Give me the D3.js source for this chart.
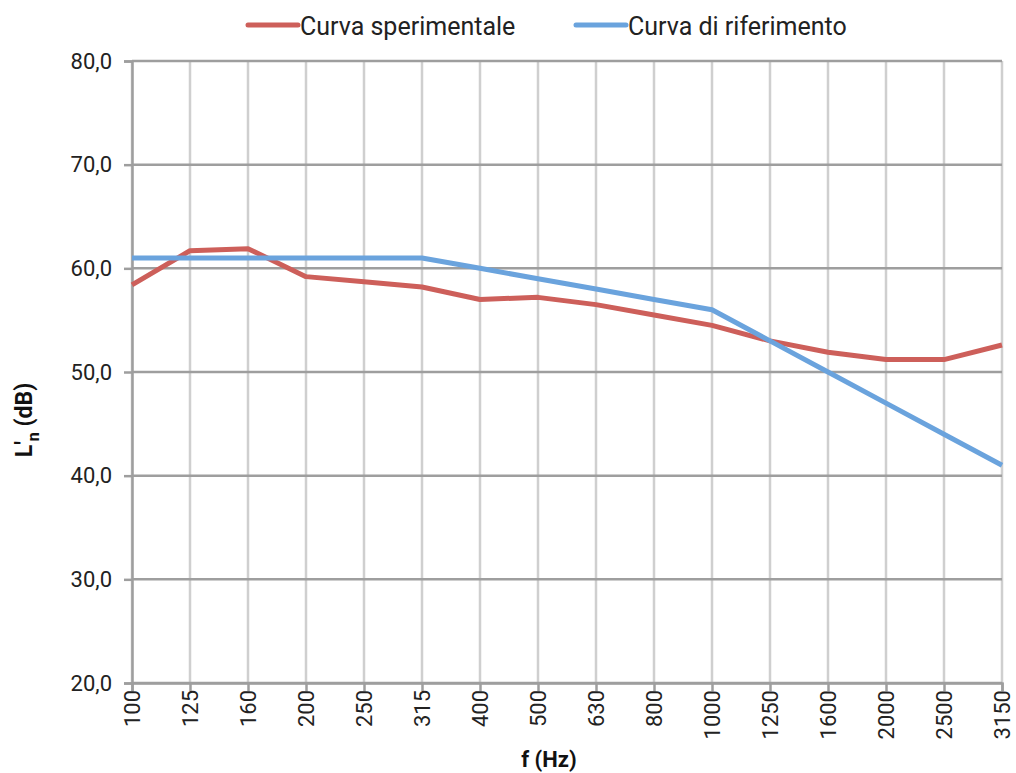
<!DOCTYPE html>
<html><head><meta charset="utf-8">
<script src="https://cdn.jsdelivr.net/npm/d3@7"></script>
<style>body{margin:0;background:#fff;} svg{display:block;}</style>
</head><body>
<svg id="chart" width="1016" height="773"></svg>
<script>
const categories = ["100","125","160","200","250","315","400","500","630","800","1000","1250","1600","2000","2500","3150"];
const sperimentale = [58.4,61.7,61.9,59.2,58.7,58.2,57.0,57.2,56.5,55.5,54.5,53.0,51.9,51.2,51.2,52.6];
const riferimento = [61,61,61,61,61,61,60,59,58,57,56,53,50,47,44,41];
const yTicks = [20,30,40,50,60,70,80];
const seriesNames = ["Curva sperimentale","Curva di riferimento"];
const colors = ["#cd5f5a","#6aa3dd"];

const font = "Roboto,'Liberation Sans',sans-serif";
const svg = d3.select("#chart");
const m = {l:132, r:1002, t:61, b:683};
const x = d3.scalePoint().domain(categories).range([m.l, m.r]);
const y = d3.scaleLinear().domain([20,80]).range([m.b, m.t]);

// gridlines
svg.append("g").selectAll("line").data(categories).join("line")
  .attr("x1", d=>x(d)).attr("x2", d=>x(d)).attr("y1", m.t).attr("y2", m.b)
  .attr("stroke", "#cfcfcf").attr("stroke-width", 2.5);
svg.append("g").selectAll("line").data(yTicks).join("line")
  .attr("x1", m.l).attr("x2", m.r).attr("y1", d=>y(d)).attr("y2", d=>y(d))
  .attr("stroke", "#9e9e9e").attr("stroke-width", 2.5);

// axes
const yAxis = svg.append("g").attr("transform", `translate(${m.l},0)`)
  .call(d3.axisLeft(y).tickValues(yTicks).tickSize(8).tickPadding(12)
    .tickFormat(d => d3.format(".1f")(d).replace(".", ",")));
yAxis.select(".domain").attr("stroke", "#9e9e9e").attr("stroke-width", 2.5);
yAxis.selectAll(".tick line").attr("stroke", "#9e9e9e").attr("stroke-width", 2.5);
yAxis.selectAll("text").attr("font-family", font).attr("font-size", 22).attr("fill", "#222");

const xAxis = svg.append("g").attr("transform", `translate(0,${m.b})`)
  .call(d3.axisBottom(x).tickSize(8).tickPadding(6));
xAxis.select(".domain").attr("stroke", "#9e9e9e").attr("stroke-width", 2.5);
xAxis.selectAll(".tick line").attr("stroke", "#9e9e9e").attr("stroke-width", 2.5);
xAxis.selectAll("text").attr("font-family", font).attr("font-size", 22).attr("fill", "#222")
  .attr("transform", "rotate(-90)").attr("text-anchor", "end")
  .attr("x", -7).attr("y", 0).attr("dy", "0.35em");

// lines
const line = d3.line().x((d,i)=>x(categories[i])).y(d=>y(d));
[sperimentale, riferimento].forEach((s,i)=>{
  svg.append("path").datum(s).attr("d", line).attr("fill","none")
    .attr("stroke", colors[i]).attr("stroke-width", 5).attr("stroke-linejoin","round");
});

// legend
const legX = [248, 576];
seriesNames.forEach((n,i)=>{
  svg.append("line").attr("x1", legX[i]).attr("x2", legX[i]+50).attr("y1", 25).attr("y2", 25)
    .attr("stroke", colors[i]).attr("stroke-width", 5).attr("stroke-linecap","round");
  svg.append("text").attr("x", legX[i]+52).attr("y", 26).attr("dy","0.35em")
    .attr("font-family", font).attr("font-size", 25).attr("fill","#222").text(n);
});

// axis titles
svg.append("text").attr("x", 549).attr("y", 767).attr("text-anchor","middle")
  .attr("font-family", font).attr("font-size", 22).attr("font-weight","bold").attr("fill","#111")
  .text("f (Hz)");
const yt = svg.append("text").attr("transform", "translate(32,420) rotate(-90)").attr("text-anchor","middle")
  .attr("font-family", font).attr("font-size", 23).attr("font-weight","bold").attr("fill","#111");
yt.append("tspan").text("L'");
yt.append("tspan").attr("font-size", 16).attr("dy", 7).text("n");
yt.append("tspan").attr("dy", -7).text(" (dB)");
</script>
</body></html>
